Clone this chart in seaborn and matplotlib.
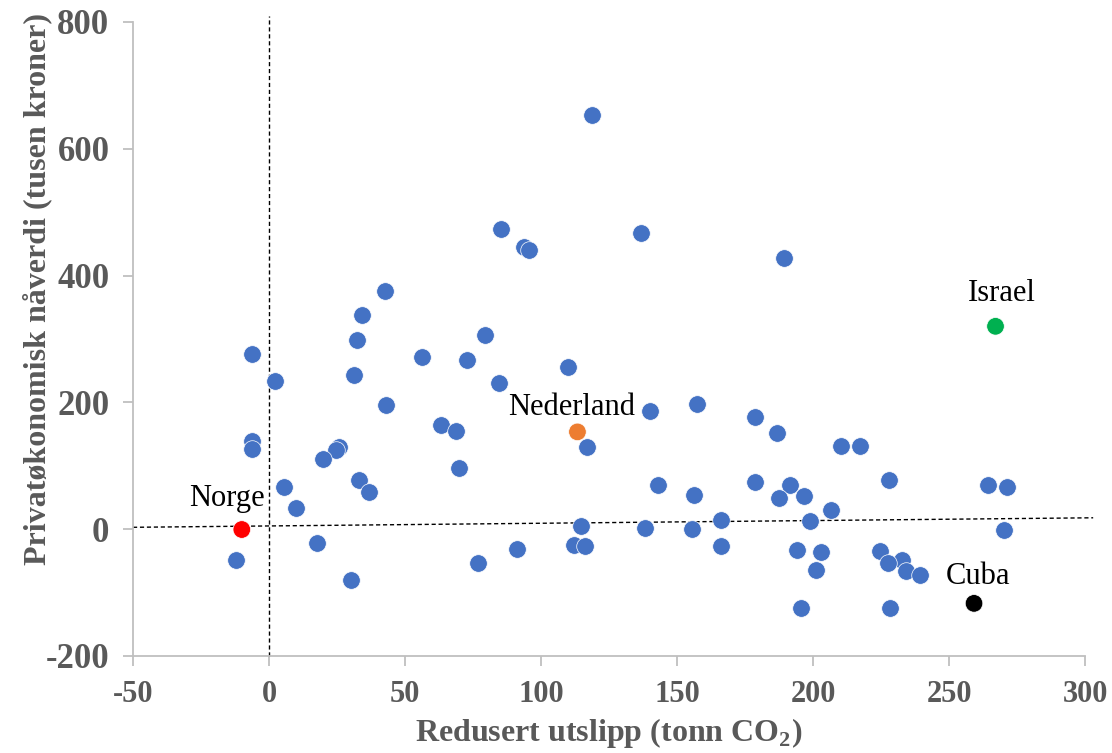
import matplotlib
matplotlib.use("Agg")
import matplotlib.pyplot as plt
import seaborn as sns
import pandas as pd

# ---- data ----
other_x = [42.8, 34.2, 32.3, -6.4, 56.4, 2.3, 31.2, 42.9, 63.4, 68.9, -6.1, -6.4,
           25.6, 24.5, 19.7, 70.0, 33.1, 36.9, 5.5, 10.0, 17.6, -12.3, 30.3,
           118.9, 85.4, 93.8, 95.6, 136.9, 79.3, 72.8, 109.8, 84.4, 140.1, 157.4,
           178.6, 116.8,
           142.9, 156.2, 178.6, 114.6, 138.3, 155.4, 166.0, 112.1, 116.1, 166.2,
           91.1, 76.7,
           189.3, 186.9, 210.2, 217.1, 191.4, 187.5, 196.7, 206.7, 198.9, 228.0,
           264.3, 271.5, 270.2, 194.2, 202.8, 201.0, 224.6, 232.8, 227.6, 234.1,
           239.4, 195.6, 228.2]
other_y = [375, 338, 298, 277, 271, 234, 243, 196, 164, 155, 139, 126,
           130, 125, 111, 97, 77, 58, 67, 34, -22, -49, -80,
           654, 473, 445, 441, 467, 306, 267, 256, 231, 186, 197,
           177, 130,
           69, 54, 75, 5, 2, 0, 14, -25, -26, -27,
           -32, -54,
           427, 152, 131, 131, 70, 50, 52, 30, 13, 77,
           70, 67, -1, -33, -36, -64, -34, -49, -54, -66,
           -73, -125, -125]

countries = ["Norge", "Nederland", "Israel", "Cuba"]
country_x = [-10.0, 113.4, 267.1, 259.2]
country_y = [-0.5, 153.5, 320.0, -117.0]
country_colors = ["#FF0000", "#ED7D31", "#00B050", "#000000"]
# label offsets (points) relative to each highlighted point
label_dx = [-11.0, -4.3, 4.3, 2.7]
label_dy = [16.8, 12.5, 18.0, 14.2]

vline_x = [0, 0]
vline_y = [-200, 810]
hline_x = [-50, 303]
hline_y = [3, 18]

x_ticks = [-50, 0, 50, 100, 150, 200, 250, 300]
y_ticks = [-200, 0, 200, 400, 600, 800]

# ---- style ----
sns.set_style("white")
plt.rcParams["font.family"] = ["Liberation Serif", "DejaVu Serif"]
plt.rcParams["mathtext.fontset"] = "custom"
plt.rcParams["mathtext.rm"] = "Liberation Serif"
plt.rcParams["mathtext.bf"] = "Liberation Serif:bold"

fig = plt.figure(figsize=(11.12, 7.53), dpi=100)
ax = fig.add_axes([133 / 1112, 1 - 656 / 753, (1085 - 133) / 1112, (656 - 22) / 753])

df_other = pd.DataFrame({"x": other_x, "y": other_y})
sns.scatterplot(data=df_other, x="x", y="y", ax=ax, color="#4472C4", s=160,
                edgecolor="white", linewidth=0.5, zorder=3)

df_c = pd.DataFrame({"x": country_x, "y": country_y, "land": countries})
sns.scatterplot(data=df_c, x="x", y="y", hue="land", palette=country_colors,
                hue_order=countries, ax=ax, s=160, edgecolor="white",
                linewidth=0.5, zorder=4, legend=False)

ax.plot(vline_x, vline_y, color="black", linestyle=(0, (3, 2)), linewidth=1.0,
        clip_on=False, zorder=2)
ax.plot(hline_x, hline_y, color="black", linestyle=(0, (3, 2)), linewidth=1.0,
        clip_on=False, zorder=2)

for name, cx, cy, dx, dy in zip(countries, country_x, country_y, label_dx, label_dy):
    ax.annotate(name, (cx, cy), xytext=(dx, dy), textcoords="offset points",
                ha="center", va="baseline", fontsize=22, color="black")

ax.set_xlim(-50, 300)
ax.set_ylim(-200, 800)
ax.set_xticks(x_ticks)
ax.set_yticks(y_ticks)
ax.set_xticklabels([str(v) for v in x_ticks])
ax.set_yticklabels([str(v) for v in y_ticks])

for side in ["top", "right"]:
    ax.spines[side].set_visible(False)
for side in ["left", "bottom"]:
    ax.spines[side].set_color("#BFBFBF")
    ax.spines[side].set_linewidth(1.3)

ax.tick_params(axis="both", which="major", direction="out", length=7, width=1.3,
               color="#BFBFBF", labelcolor="#595959", bottom=True, left=True)
ax.tick_params(axis="x", pad=10, labelsize=22)
ax.tick_params(axis="y", pad=10, labelsize=25)
for lab in ax.get_xticklabels() + ax.get_yticklabels():
    lab.set_fontweight("bold")

ax.set_xlabel(r"Redusert utslipp (tonn CO$_\mathbf{2}$)", fontsize=23,
              fontweight="bold", color="#595959")
ax.set_ylabel("Privatøkonomisk nåverdi (tusen kroner)", fontsize=23,
              fontweight="bold", color="#595959")
ax.xaxis.set_label_coords(0.5, -0.095)
ax.yaxis.set_label_coords(-0.1, 0.579)
ax.xaxis.label.set_va("top")
ax.yaxis.label.set_va("center")

fig.savefig("out.png", dpi=100)
